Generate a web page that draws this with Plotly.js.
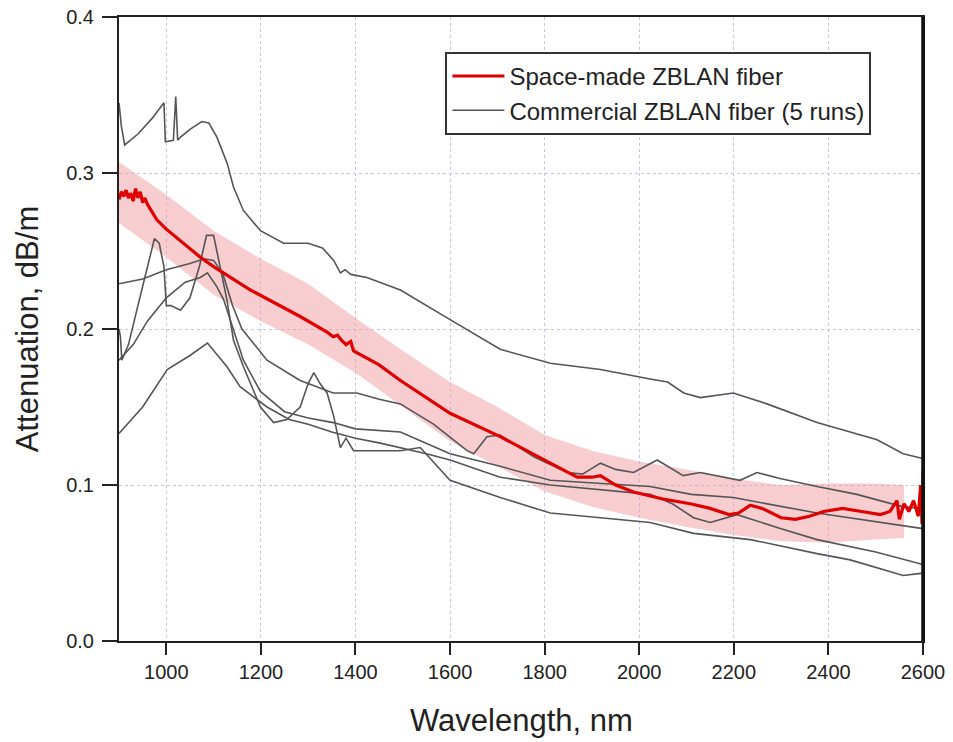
<!DOCTYPE html>
<html><head><meta charset="utf-8">
<script src="https://cdn.plot.ly/plotly-3.0.1.min.js"></script>
<style>html,body{margin:0;padding:0;background:#fff}#chart{width:953px;height:742px}</style>
</head><body><div id="chart"></div>
<script>
// Space-made ZBLAN fiber (red)
const spaceWl  = [900,905,910,915,920,925,930,935,940,945,950,955,960,980,1000,1072,1100,1178,1283,1340,1353,1362,1370,1380,1390,1396,1450,1495,1600,1706,1812,1869,1900,1918,1950,1988,2050,2108,2150,2190,2210,2235,2260,2300,2330,2360,2390,2430,2470,2510,2530,2545,2550,2560,2570,2580,2590,2595,2598,2600];
const spaceAtt = [0.283,0.288,0.285,0.289,0.284,0.287,0.282,0.290,0.284,0.288,0.281,0.284,0.280,0.270,0.264,0.246,0.240,0.225,0.208,0.198,0.195,0.196,0.193,0.190,0.192,0.186,0.177,0.167,0.146,0.131,0.114,0.105,0.105,0.106,0.100,0.0955,0.091,0.088,0.085,0.081,0.082,0.087,0.085,0.079,0.078,0.080,0.083,0.085,0.083,0.081,0.083,0.090,0.078,0.088,0.083,0.090,0.080,0.100,0.075,0.110];
// uncertainty band of space-made fiber
const bandWl    = [900,1000,1100,1200,1300,1400,1500,1600,1700,1800,1900,2000,2100,2200,2300,2400,2500,2560];
const bandUpper = [0.307,0.286,0.263,0.245,0.229,0.207,0.186,0.166,0.150,0.132,0.122,0.115,0.110,0.104,0.100,0.101,0.101,0.100];
const bandLower = [0.268,0.246,0.222,0.205,0.190,0.172,0.150,0.128,0.112,0.096,0.086,0.079,0.073,0.068,0.064,0.063,0.065,0.066];
// Commercial ZBLAN fiber, 5 runs
const runAWl  = [900,905,912,940,970,995,998,1015,1020,1024,1030,1050,1075,1090,1107,1129,1142,1163,1199,1248,1300,1330,1354,1368,1378,1390,1424,1495,1600,1706,1812,1918,2023,2060,2094,2129,2199,2270,2376,2503,2558,2600];
const runAAtt = [0.345,0.330,0.318,0.325,0.335,0.345,0.320,0.321,0.349,0.321,0.323,0.328,0.333,0.332,0.323,0.306,0.291,0.276,0.263,0.255,0.255,0.252,0.244,0.236,0.238,0.235,0.233,0.225,0.206,0.187,0.178,0.174,0.168,0.166,0.159,0.156,0.159,0.152,0.140,0.129,0.120,0.117];
const runBWl  = [900,950,1000,1050,1080,1100,1120,1140,1160,1213,1283,1353,1403,1450,1495,1565,1636,1650,1678,1706,1777,1848,1880,1918,1950,1988,2038,2070,2093,2129,2213,2249,2300,2376,2460,2558,2600];
const runBAtt = [0.229,0.232,0.238,0.242,0.245,0.244,0.235,0.215,0.200,0.180,0.167,0.159,0.159,0.155,0.152,0.139,0.122,0.120,0.131,0.132,0.118,0.108,0.107,0.114,0.110,0.108,0.116,0.110,0.106,0.108,0.103,0.108,0.104,0.099,0.094,0.086,0.085];
const runCWl  = [900,903,906,920,940,960,975,985,995,1000,1010,1030,1050,1070,1085,1100,1114,1128,1142,1163,1199,1227,1255,1283,1300,1312,1325,1340,1354,1368,1380,1396,1450,1495,1537,1600,1706,1812,1918,2023,2115,2235,2376,2446,2558,2600];
const runCAtt = [0.200,0.195,0.180,0.190,0.215,0.240,0.258,0.255,0.240,0.215,0.215,0.212,0.220,0.240,0.260,0.260,0.240,0.219,0.193,0.176,0.150,0.140,0.142,0.150,0.165,0.172,0.165,0.159,0.144,0.124,0.130,0.122,0.122,0.122,0.124,0.103,0.092,0.082,0.079,0.076,0.069,0.065,0.056,0.052,0.042,0.0435];
const runDWl  = [900,930,960,1000,1040,1072,1087,1107,1121,1142,1163,1199,1250,1300,1353,1400,1495,1600,1706,1812,1918,2023,2110,2199,2376,2600];
const runDAtt = [0.180,0.190,0.205,0.220,0.230,0.233,0.236,0.227,0.219,0.200,0.180,0.160,0.147,0.143,0.140,0.136,0.134,0.120,0.112,0.103,0.101,0.099,0.094,0.092,0.082,0.072];
const runEWl  = [900,950,1002,1050,1087,1128,1156,1213,1260,1300,1350,1400,1450,1495,1550,1600,1706,1812,1918,2023,2070,2115,2150,2207,2300,2376,2500,2600];
const runEAtt = [0.133,0.150,0.174,0.183,0.191,0.176,0.163,0.150,0.142,0.139,0.134,0.130,0.127,0.124,0.120,0.116,0.105,0.100,0.097,0.094,0.088,0.079,0.076,0.081,0.072,0.065,0.057,0.049];

const legendNames = ["Space-made ZBLAN fiber", "Commercial ZBLAN fiber (5 runs)"];
const xTicks = [1000,1200,1400,1600,1800,2000,2200,2400,2600];
const yTicks = [0.0,0.1,0.2,0.3,0.4];
const xTitle = 'Wavelength, nm';
const yTitle = 'Attenuation, dB/m';

const gray = '#555555';
const red = '#e00000';
const font = "'Liberation Sans', Arial, sans-serif";
const traces = [
  {x: bandWl, y: bandLower, mode:'lines', line:{width:0, color:'rgba(0,0,0,0)'}, showlegend:false, hoverinfo:'skip'},
  {x: bandWl, y: bandUpper, mode:'lines', fill:'tonexty', fillcolor:'rgba(238,150,156,0.48)', line:{width:0, color:'rgba(0,0,0,0)'}, showlegend:false, hoverinfo:'skip'},
  // legend entry for the red series (first in legend)
  {x:[null], y:[null], mode:'lines', line:{color:red, width:3}, name:legendNames[0], showlegend:true}
];
const runs = [[runAWl,runAAtt],[runBWl,runBAtt],[runCWl,runCAtt],[runDWl,runDAtt],[runEWl,runEAtt]];
runs.forEach((r,i)=>{
  traces.push({x:r[0], y:r[1], mode:'lines', line:{color:gray, width:1.6}, name:legendNames[1], showlegend:i===0});
});
traces.push({x:spaceWl, y:spaceAtt, mode:'lines', line:{color:red, width:3.2}, name:legendNames[0], showlegend:false});

const layout = {
  width:953, height:742,
  margin:{l:119, r:30, t:17, b:101},
  paper_bgcolor:'#fff', plot_bgcolor:'#fff',
  font:{family:font, color:'#222', size:19},
  showlegend:true,
  legend:{x:0.406, y:0.944, xanchor:'left', yanchor:'top', traceorder:'normal', bgcolor:'#fff', bordercolor:'#333', borderwidth:2, font:{size:24, family:font, color:'#222'}, tracegroupgap:0, itemwidth:52},
  xaxis:{range:[900,2600], tickvals:xTicks, ticktext:xTicks.map(String), ticks:'outside', ticklen:12, tickwidth:2, tickcolor:'#222',
    showline:true, linecolor:'#222', linewidth:2, mirror:true, showgrid:true, gridcolor:'#c3c3ec', griddash:'dot', gridwidth:1, zeroline:false,
    tickfont:{size:20}},
  yaxis:{range:[0,0.4], tickvals:yTicks, ticktext:yTicks.map(v=>v.toFixed(1)), ticks:'outside', ticklen:15, tickwidth:2, tickcolor:'#222',
    ticklabelstandoff:4,
    showline:true, linecolor:'#222', linewidth:2, mirror:true, showgrid:true, gridcolor:'#c3c3ec', griddash:'dot', gridwidth:1, zeroline:false,
    tickfont:{size:20}, title:{text:yTitle, font:{size:31}, standoff:18}},
  annotations:[{text:xTitle, xref:'paper', yref:'paper', x:0.5, y:-0.0955, xanchor:'center', yanchor:'top', showarrow:false, font:{size:31, family:font, color:'#222'}}],
  shapes:[{type:'line', xref:'paper', yref:'paper', x0:1, x1:1, y0:0, y1:1, line:{color:'#111', width:3.5}}]
};
Plotly.newPlot('chart', traces, layout, {displayModeBar:false, staticPlot:true});
</script></body></html>
